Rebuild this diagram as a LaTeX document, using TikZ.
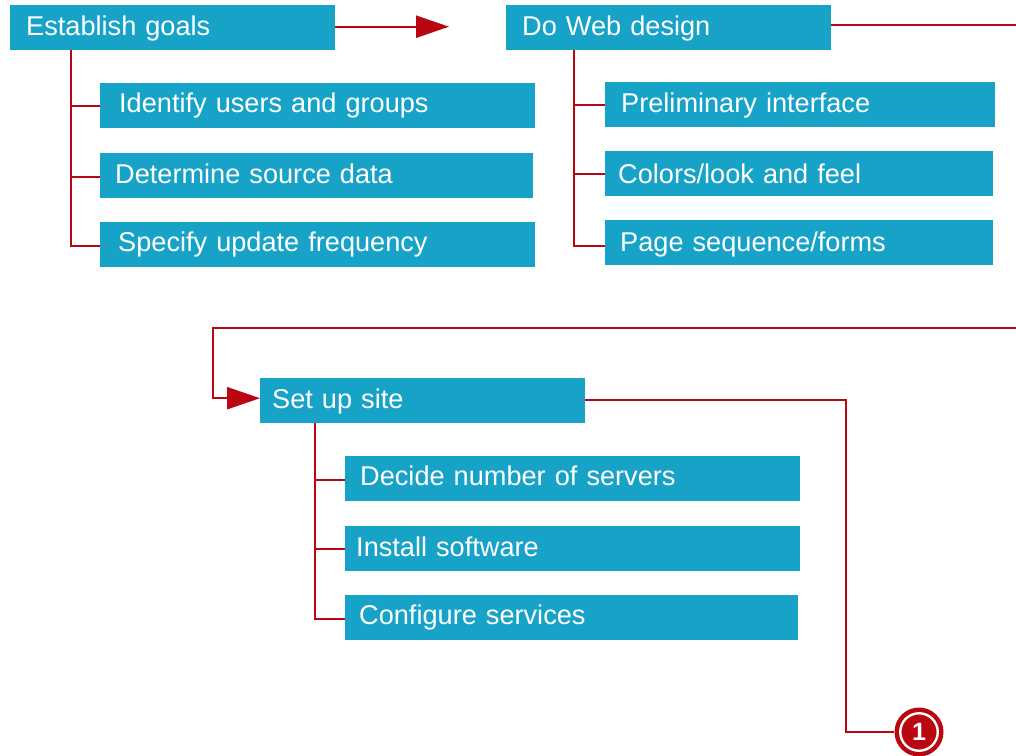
\documentclass[tikz,border=0pt]{standalone}
\usepackage{fontspec}
\setmainfont{Liberation Sans}
\usetikzlibrary{arrows.meta}
\definecolor{boxblue}{HTML}{17A3C8}
\definecolor{linkred}{HTML}{BA0610}
\tikzset{
  tbox/.style n args={3}{draw=none,fill=boxblue,text=white,anchor=north west,inner ysep=0pt,
    inner xsep=0pt,minimum height=45pt,
    text width=#1 pt,align=left,font=\fontsize{27.15}{30}\selectfont,
    text height=20pt+2*#3 pt,text depth=6pt,
    execute at begin node={\hspace*{#2 pt}}},
  link/.style={draw=linkred,line width=2.4pt},
  head/.style={-{Triangle[length=33pt,width=22pt,color=linkred]}},
}
\begin{document}
\begin{tikzpicture}[x=1pt,y=-1pt]
\useasboundingbox (0,0) rectangle (1016,755);
\node[tbox={325}{16}{1}] (goals) at (10,5) {Establish goals};
\node[tbox={435}{19}{0}] (users) at (100,83) {Identify users and groups};
\node[tbox={433}{15}{1}] (data) at (100,153) {Determine source data};
\node[tbox={435}{18}{0}] (freq) at (100,222) {Specify update frequency};
\node[tbox={325}{16}{1}] (web) at (506,5) {Do Web design};
\node[tbox={390}{16}{1}] (prelim) at (605,82) {Preliminary interface};
\node[tbox={388}{13}{3}] (colors) at (605,151) {Colors/look and feel};
\node[tbox={388}{15}{2}] (page) at (605,220) {Page sequence/forms};
\node[tbox={325}{12}{1}] (site) at (260,378) {Set up site};
\node[tbox={455}{15}{0}] (servers) at (345,456) {Decide number of servers};
\node[tbox={455}{11}{1}] (soft) at (345,526) {Install software};
\node[tbox={453}{14}{0}] (conf) at (345,595) {Configure services};
\node[circle,fill=linkred,minimum size=49pt,inner sep=0pt] (badge) at (919,732) {};
\node[circle,draw=white,line width=2.4pt,fill=linkred,text=white,minimum size=37.5pt,inner sep=0pt,
  font=\fontsize{25}{25}\selectfont\bfseries] (badgein) at (919,732) {1};
\coordinate (a) at (449,26.7);
\coordinate (b) at (1016,25);
\coordinate (c) at (1016,328);
\coordinate (d) at (213,328);
\coordinate (t1) at (71,50);
\coordinate (t2) at (574,50);
\coordinate (t3) at (315,423);
\coordinate (e) at (846,400);
\draw[link,head] (goals.east |- a) -- (a);
\draw[link] (web.east |- b) -- (b);
\draw[link,head] (c) -- (d) |- ([yshift=2.5pt]site.west);
\draw[link] (site.east |- e) -- (e) |- (badge.west);
\draw[link] (t1) |- ([yshift=-1pt]freq.west);
\draw[link] (t1) |- (users.west);
\draw[link] (t1) |- ([yshift=-1pt]data.west);
\draw[link] (t2) |- ([yshift=-3pt]page.west);
\draw[link] (t2) |- (prelim.west);
\draw[link] (t2) |- (colors.west);
\draw[link] (t3) |- ([yshift=-1pt]conf.west);
\draw[link] (t3) |- ([yshift=-1pt]servers.west);
\draw[link] (t3) |- (soft.west);
\end{tikzpicture}
\end{document}
